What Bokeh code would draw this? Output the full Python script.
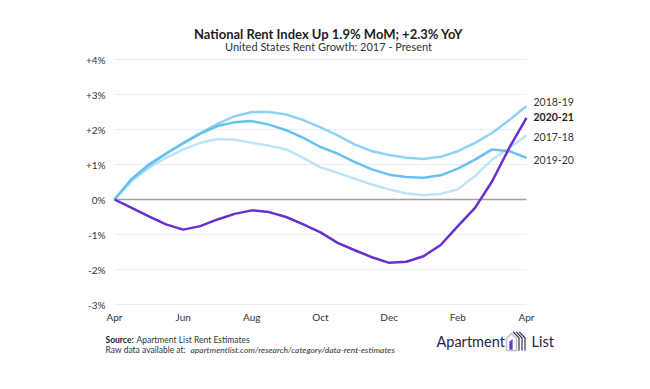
from bokeh.plotting import figure
from bokeh.models import Range1d, Label, PolyAnnotation, ColumnDataSource
from bokeh.embed import file_html
from bokeh.resources import INLINE

# ---- data (percent rent change since April, read at half-month steps) ----
months = [i / 2 for i in range(25)]
month_ticks = [0, 2, 4, 6, 8, 10, 12]
month_labels = ["Apr", "Jun", "Aug", "Oct", "Dec", "Feb", "Apr"]
y_ticks = [-3, -2, -1, 0, 1, 2, 3, 4]
y_labels = ["-3%", "-2%", "-1%", "0%", "+1%", "+2%", "+3%", "+4%"]

s2017_18 = [0, 0.52, 0.90, 1.19, 1.43, 1.62, 1.73, 1.71, 1.62, 1.54, 1.43, 1.19, 0.92,
            0.76, 0.59, 0.43, 0.29, 0.17, 0.12, 0.16, 0.29, 0.67, 1.14, 1.48, 1.83]
s2018_19 = [0, 0.57, 0.95, 1.31, 1.62, 1.90, 2.16, 2.38, 2.50, 2.50, 2.43, 2.27, 2.06,
            1.83, 1.57, 1.38, 1.27, 1.19, 1.16, 1.22, 1.38, 1.62, 1.90, 2.27, 2.67]
s2019_20 = [0, 0.59, 1.00, 1.31, 1.60, 1.88, 2.10, 2.21, 2.24, 2.14, 1.98, 1.76, 1.50,
            1.31, 1.07, 0.86, 0.71, 0.64, 0.62, 0.69, 0.88, 1.14, 1.43, 1.38, 1.19]
s2020_21 = [0, -0.24, -0.48, -0.71, -0.86, -0.76, -0.57, -0.41, -0.31, -0.36, -0.50, -0.71, -0.94,
            -1.24, -1.45, -1.65, -1.81, -1.78, -1.62, -1.30, -0.76, -0.24, 0.52, 1.48, 2.33]

FONT = "Lato"
W, H = 634, 373
OFF = 1            # canvas origin in the window
XS = 412 / 12      # px per month
YS = 35.0          # px per percent
X0, Y0 = 115, 200  # window px of (Apr, 0%)

def dx(px):
    return (px - X0) / XS

def dy(py):
    return (Y0 - py) / YS

p = figure(width=W, height=H, output_backend="svg", toolbar_location=None,
           x_axis_location=None, y_axis_location=None,
           x_range=Range1d(dx(OFF), dx(W + OFF)), y_range=Range1d(dy(H + OFF), dy(OFF)),
           min_border=0, min_border_left=0, min_border_right=0,
           min_border_top=0, min_border_bottom=0)
p.outline_line_color = None
p.xgrid.visible = False
p.ygrid.visible = False

# gridlines and zero line
grid_src = ColumnDataSource(dict(y=[t for t in y_ticks if t != 0]))
p.segment(x0=months[0], x1=months[-1], y0="y", y1="y", source=grid_src,
          line_color="#ededed", line_width=1.2)
p.segment(x0=[months[0]], x1=[months[-1]], y0=[0], y1=[0], line_color="#a0a0a0", line_width=1.6)

# tick labels
p.text(x=[months[0]] * len(y_ticks), y=y_ticks, text=y_labels, x_offset=-9,
       text_align="right", text_baseline="middle", text_font_size="10px",
       text_color="#333333", text_font={"value": FONT})
p.text(x=month_ticks, y=[y_ticks[0]] * len(month_ticks), text=month_labels, y_offset=12,
       text_align="center", text_baseline="middle", text_font_size="10px",
       text_color="#333333", text_font={"value": FONT})

# series
p.line(months, s2017_18, line_color="#bde4f9", line_width=2.5, line_join="round")
p.line(months, s2018_19, line_color="#8fd2f6", line_width=2.5, line_join="round")
p.line(months, s2019_20, line_color="#66c1ef", line_width=2.5, line_join="round")
p.line(months, s2020_21, line_color="#6a2fd0", line_width=2.5, line_join="round")

def lab(x, y, text, size, color="#333333", style="normal", align="left"):
    p.add_layout(Label(x=dx(x), y=dy(y), text=text, text_font=FONT,
                       text_font_size=size, text_color=color, text_font_style=style,
                       text_align=align, text_baseline="middle"))

# titles
lab(329, 34, "National Rent Index Up 1.9% MoM; +2.3% YoY", "13px", "#1e1e1e", "bold", "center")
lab(329, 47, "United States Rent Growth: 2017 - Present", "11px", "#333333", "normal", "center")

# series labels
lab(534, 102, "2018-19", "10.5px")
lab(534, 117, "2020-21", "10.5px", "#1e1e1e", "bold")
lab(534, 137, "2017-18", "10.5px")
lab(534, 160, "2019-20", "10.5px")

# footer
lab(106, 340, "Source:", "8.5px", "#1e1e1e", "bold")
lab(137, 340, "Apartment List Rent Estimates", "8.5px")
lab(106, 350, "Raw data available at:", "8.5px")
lab(191, 350, "apartmentlist.com/research/category/data-rent-estimates", "8.5px", "#333333", "italic")

# logo
NAVY = "#2a2147"
lab(437, 342, "Apartment", "14.5px", NAVY)
lab(532, 342, "List", "14.5px", NAVY)

def poly(pts, fill=None, line=NAVY, lw=1.5):
    p.add_layout(PolyAnnotation(xs=[dx(a) for a, b in pts], ys=[dy(b) for a, b in pts],
                                fill_color=fill if fill else "white",
                                fill_alpha=1 if fill else 0,
                                line_color=line, line_width=lw))

poly([(507, 351), (507, 339), (512, 334), (517, 339), (517, 351)])
poly([(510, 350), (510, 342), (513, 340), (513, 350)], fill="#6a2fd0", line="#6a2fd0", lw=0.8)
for off in (0, 3, 6):
    poly([(514 + off, 332), (520 + off, 338), (520 + off, 351), (519 + off, 351),
          (519 + off, 338.5), (513.5 + off, 333)], fill=NAVY, lw=0.4)

open("out.html", "w").write(file_html(p, INLINE))
